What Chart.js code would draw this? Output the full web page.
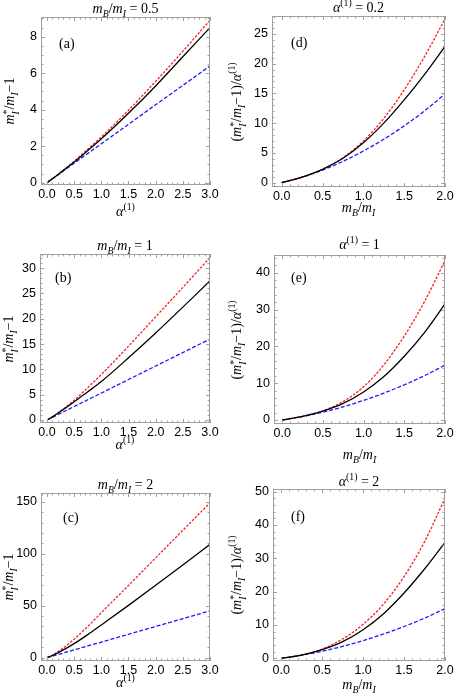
<!DOCTYPE html>
<html>
<head>
<meta charset="utf-8">
<script src="https://cdn.jsdelivr.net/npm/chart.js@4.4.1/dist/chart.umd.min.js"></script>
<style>
  body { margin: 0; background: #fff; }
  #fig { position: relative; width: 457px; height: 696px; overflow: hidden;
         font-family: "Liberation Serif", "Times New Roman", serif; color: #000; }
  #fig canvas { position: absolute; }
  .lbl { position: absolute; white-space: nowrap; font-size: 14px; line-height: 1;
         transform: translate(-50%, -50%); }
  .rot { transform: translate(-50%, -50%) rotate(-90deg); }
  .tag { position: absolute; white-space: nowrap; font-size: 14px; line-height: 1;
         transform: translate(0, -50%); }
  sub, sup { font-size: 70%; line-height: 0; }
  .st { display: inline-block; font-size: 70%; line-height: 0.9; vertical-align: -0.5em; }
</style>
</head>
<body>
<div id="fig"></div>
<script>
// x grids
const alpha = [0, 0.1, 0.25, 0.5, 0.75, 1, 1.5, 2, 2.5, 3];
const ratio = [0, 0.25, 0.5, 0.75, 1, 1.25, 1.5, 1.75, 2];

// (a) mB/mI = 0.5
const aBlack = [0, 0.21, 0.55, 1.13, 1.76, 2.4, 3.8, 5.3, 6.9, 8.5];
const aRed   = [0, 0.21, 0.56, 1.17, 1.83, 2.5, 3.97, 5.55, 7.2, 8.9];
const aBlue  = [0, 0.213, 0.53, 1.07, 1.6, 2.13, 3.2, 4.27, 5.33, 6.4];
// (b) mB/mI = 1
const bBlack = [0, 0.62, 1.7, 3.6, 5.6, 7.6, 12.3, 17.2, 22.3, 27.5];
const bRed   = [0, 0.64, 1.78, 3.9, 6.4, 9.0, 14.6, 20.4, 26.2, 32.1];
const bBlue  = [0, 0.533, 1.33, 2.67, 4.0, 5.33, 8.0, 10.67, 13.33, 16.0];
// (c) mB/mI = 2
const cBlack = [0, 2.1, 6.0, 13.5, 22.2, 31.5, 50.3, 69.6, 89.2, 109];
const cRed   = [0, 2.5, 7.4, 17.8, 30.0, 43.3, 69.5, 96, 122.5, 149];
const cBlue  = [0, 1.5, 3.75, 7.5, 11.25, 15, 22.5, 30, 37.5, 45];
// (d) alpha = 0.2
const dBlack = [0, 0.95, 2.25, 4.1, 6.7, 10.0, 13.9, 18.2, 22.9];
const dRed   = [0, 0.95, 2.27, 4.2, 7.0, 10.8, 15.6, 21.2, 27.5];
// (e) alpha = 1
const eBlack = [0, 0.95, 2.4, 4.5, 7.6, 11.8, 17.3, 23.8, 31.5];
const eRed   = [0, 0.97, 2.5, 5.0, 9.0, 15.0, 22.8, 32.2, 43.3];
// (f) alpha = 2
const fBlack = [0, 0.97, 2.6, 5.0, 8.6, 13.4, 19.6, 26.8, 34.8];
const fRed   = [0, 1.0, 2.8, 5.8, 10.2, 16.3, 24.5, 35.0, 48.0];
// first order curve, same in (d), (e), (f)
const ratioBlue = [0, 0.93, 2.13, 3.59, 5.33, 7.3, 9.55, 12.06, 14.9];

// tick labels
const alphaTicks = [0, 0.5, 1, 1.5, 2, 2.5, 3];
const ratioTicks = [0, 0.5, 1, 1.5, 2];
const aTicksY = [0, 2, 4, 6, 8];
const bTicksY = [0, 5, 10, 15, 20, 25, 30];
const cTicksY = [0, 50, 100, 150];
const dTicksY = [0, 5, 10, 15, 20, 25];
const eTicksY = [0, 10, 20, 30, 40];
const fTicksY = [0, 10, 20, 30, 40, 50];

// label markup
const mRatio = '<i>m</i><sub><i>B</i></sub>/<i>m</i><sub><i>I</i></sub>';
const alph = '<i>&alpha;</i><sup>(1)</sup>';
const mStar = '<i>m</i><span class="st">*<br><i>I</i></span>/<i>m</i><sub><i>I</i></sub>&minus;1';
const yLeft = mStar;
const yRight = '(' + mStar + ')/' + alph;

const panels = [
  { tag: '(a)', title: mRatio + ' = 0.5', xs: alpha, lines: [aBlack, aRed, aBlue], xt: alphaTicks, yt: aTicksY,
    L: 41, R: 210, T: 17, B: 185, xmin: -0.11, xmax: 3, ymin: -0.13, ymax: 9.08, xMinor: 0.1, yMinor: 0.5,
    titleY: 9, xTitleY: 212, yTitleX: 12, tagX: 59, tagY: 44, xLab: alph, yLab: yLeft },
  { tag: '(b)', title: mRatio + ' = 1', xs: alpha, lines: [bBlack, bRed, bBlue], xt: alphaTicks, yt: bTicksY,
    L: 40, R: 210, T: 254, B: 423, xmin: -0.13, xmax: 3, ymin: -0.59, ymax: 32.8, xMinor: 0.1, yMinor: 1,
    titleY: 246, xTitleY: 445, yTitleX: 11, tagX: 55, tagY: 278, xLab: alph, yLab: yLeft },
  { tag: '(c)', title: mRatio + ' = 2', xs: alpha, lines: [cBlack, cRed, cBlue], xt: alphaTicks, yt: cTicksY,
    L: 41, R: 210, T: 493, B: 661, xmin: -0.11, xmax: 3, ymin: -3.2, ymax: 158.4, xMinor: 0.1, yMinor: 10,
    titleY: 485, xTitleY: 683, yTitleX: 11, tagX: 63, tagY: 518, xLab: alph, yLab: yLeft },
  { tag: '(d)', title: alph + ' = 0.2', xs: ratio, lines: [dBlack, dRed, ratioBlue], xt: ratioTicks, yt: dTicksY,
    L: 272, R: 445, T: 16, B: 187, xmin: -0.12, xmax: 2, ymin: -0.72, ymax: 28.0, xMinor: 0.1, yMinor: 1,
    titleY: 8, xTitleY: 208, yTitleX: 239, tagX: 291, tagY: 43, xLab: mRatio, yLab: yRight },
  { tag: '(e)', title: alph + ' = 1', xs: ratio, lines: [eBlack, eRed, ratioBlue], xt: ratioTicks, yt: eTicksY,
    L: 274, R: 445, T: 255, B: 424, xmin: -0.1, xmax: 2, ymin: -1.09, ymax: 44.8, xMinor: 0.1, yMinor: 2,
    titleY: 245, xTitleY: 455, yTitleX: 239, tagX: 291, tagY: 278, xLab: mRatio, yLab: yRight },
  { tag: '(f)', title: alph + ' = 2', xs: ratio, lines: [fBlack, fRed, ratioBlue], xt: ratioTicks, yt: fTicksY,
    L: 273, R: 445, T: 489, B: 661, xmin: -0.1, xmax: 2, ymin: -0.8, ymax: 50.8, xMinor: 0.1, yMinor: 2,
    titleY: 482, xTitleY: 685, yTitleX: 239, tagX: 291, tagY: 517, xLab: mRatio, yLab: yRight }
];

const styles = [
  { borderColor: '#000000', borderWidth: 1.3, borderDash: [] },
  { borderColor: '#ff1a1a', borderWidth: 1.3, borderDash: [2.5, 1.5] },
  { borderColor: '#1a1aff', borderWidth: 1.3, borderDash: [4, 2] }
];

// Mathematica style frame with inward ticks on all four sides
const framePlugin = {
  id: 'frame',
  afterDatasetsDraw(chart, args, opts) {
    const { ctx, chartArea: a, scales: { x, y } } = chart;
    ctx.save();
    ctx.strokeStyle = '#a0a0a0';
    ctx.lineWidth = 1;
    ctx.strokeRect(a.left + 0.5, a.top + 0.5, a.width - 1, a.height - 1);
    const steps = (sc, step) => {
      const out = [];
      for (let k = Math.ceil(sc.min / step); k * step <= sc.max + 1e-9; k++) out.push(k * step);
      return out;
    };
    const isMajor = (v, list) => list.some(t => Math.abs(t - v) < 1e-6);
    ctx.beginPath();
    steps(x, opts.xMinor).forEach(v => {
      const px = Math.round(x.getPixelForValue(v)) + 0.5;
      const len = isMajor(v, opts.xt) ? 4 : 2.5;
      ctx.moveTo(px, a.bottom); ctx.lineTo(px, a.bottom - len);
      ctx.moveTo(px, a.top); ctx.lineTo(px, a.top + len);
    });
    steps(y, opts.yMinor).forEach(v => {
      const py = Math.round(y.getPixelForValue(v)) + 0.5;
      const len = isMajor(v, opts.yt) ? 4 : 2.5;
      ctx.moveTo(a.left, py); ctx.lineTo(a.left + len, py);
      ctx.moveTo(a.right, py); ctx.lineTo(a.right - len, py);
    });
    ctx.stroke();
    ctx.restore();
  }
};

const fig = document.getElementById('fig');
const tickFont = { family: '"Liberation Sans", Arial, sans-serif', size: 12.5 };

function addLabel(html, x, y, cls) {
  const d = document.createElement('div');
  d.className = cls;
  d.innerHTML = html;
  d.style.left = x + 'px';
  d.style.top = y + 'px';
  fig.appendChild(d);
}

panels.forEach(p => {
  const padL = 40, padR = 14, padT = 6, padB = 22;
  const cv = document.createElement('canvas');
  cv.width = p.R - p.L + padL + padR;
  cv.height = p.B - p.T + padT + padB;
  cv.style.left = (p.L - padL) + 'px';
  cv.style.top = (p.T - padT) + 'px';
  fig.appendChild(cv);

  new Chart(cv, {
    type: 'line',
    data: {
      datasets: p.lines.map((ys, i) => Object.assign({
        data: p.xs.map((x, j) => ({ x: x, y: ys[j] })),
        pointRadius: 0,
        fill: false,
        cubicInterpolationMode: 'monotone'
      }, styles[i]))
    },
    options: {
      responsive: false,
      animation: false,
      events: [],
      layout: { padding: { left: 0, right: padR, top: padT, bottom: 0 } },
      plugins: {
        legend: { display: false },
        tooltip: { enabled: false },
        frame: { xMinor: p.xMinor, yMinor: p.yMinor, xt: p.xt, yt: p.yt }
      },
      scales: {
        x: {
          type: 'linear', min: p.xmin, max: p.xmax,
          grid: { display: false, drawTicks: false }, border: { display: false },
          ticks: { font: tickFont, color: '#000', padding: 2, maxRotation: 0, autoSkip: false,
                   callback: v => v.toFixed(1) },
          afterBuildTicks: s => { s.ticks = p.xt.map(v => ({ value: v })); },
          afterFit: s => { s.height = padB; s.paddingLeft = 0; s.paddingRight = 0; }
        },
        y: {
          min: p.ymin, max: p.ymax,
          grid: { display: false, drawTicks: false }, border: { display: false },
          ticks: { font: tickFont, color: '#000', padding: 4, autoSkip: false,
                   callback: v => String(v) },
          afterBuildTicks: s => { s.ticks = p.yt.map(v => ({ value: v })); },
          afterFit: s => { s.width = padL; s.paddingTop = 0; s.paddingBottom = 0; }
        }
      }
    },
    plugins: [framePlugin]
  });

  const cx = (p.L + p.R) / 2, cy = (p.T + p.B) / 2;
  addLabel(p.title, cx, p.titleY, 'lbl');
  addLabel(p.xLab, cx, p.xTitleY, 'lbl');
  addLabel(p.yLab, p.yTitleX, cy, 'lbl rot');
  addLabel(p.tag, p.tagX, p.tagY, 'tag');
});
</script>
</body>
</html>
